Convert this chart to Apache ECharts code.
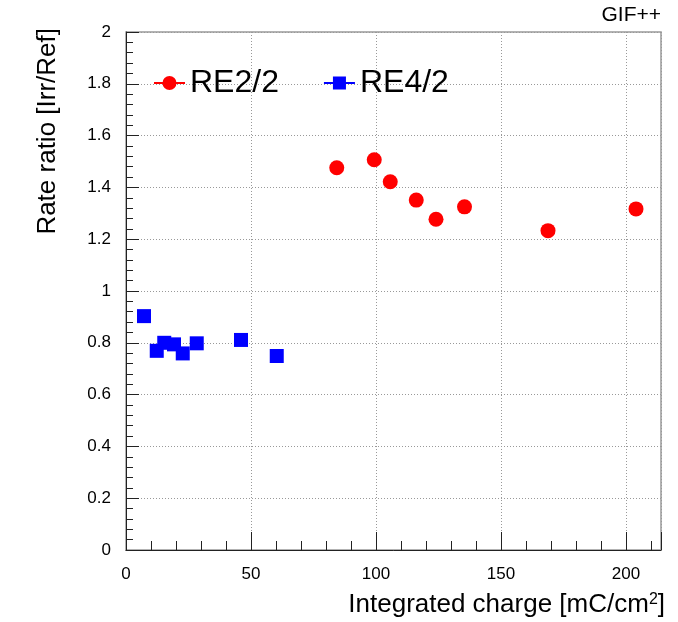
<!DOCTYPE html>
<html>
<head>
<meta charset="utf-8">
<script src="https://cdn.jsdelivr.net/npm/echarts@6/dist/echarts.min.js"></script>
<style>html,body{margin:0;padding:0;background:#fff;}#c{width:678px;height:622px;}</style>
</head>
<body>
<div id="c"></div>
<script>
// Data
const re22Charge = [84.3, 99.3, 105.7, 116.1, 124.0, 135.4, 168.8, 204.0];
const re22Ratio  = [1.476, 1.507, 1.422, 1.351, 1.277, 1.325, 1.233, 1.317];
const re42Charge = [7.2, 12.3, 15.3, 19.2, 22.7, 28.3, 46.0, 60.3];
const re42Ratio  = [0.903, 0.769, 0.800, 0.794, 0.759, 0.798, 0.811, 0.749];
const seriesNames = ['RE2/2', 'RE4/2'];
const xTitle = 'Integrated charge [mC/cm{sup|2}]';
const yTitle = 'Rate ratio [Irr/Ref]';
const cornerLabel = 'GIF++';

const FONT = '"Liberation Sans", Arial, Helvetica, sans-serif';
const pairs = (xs, ys) => xs.map((x, i) => [x, ys[i]]);

const chart = echarts.init(document.getElementById('c'), null, {renderer: 'canvas'});
chart.setOption({
  animation: false,
  backgroundColor: '#fff',
  textStyle: {fontFamily: FONT, color: '#000'},
  title: {
    text: cornerLabel, right: 12, top: 0,
    textStyle: {fontFamily: FONT, fontSize: 21, fontWeight: 'normal', color: '#000'}
  },
  legend: {
    left: 149, top: 62, orient: 'horizontal',
    itemWidth: 31, itemHeight: 14, itemGap: 45,
    textStyle: {fontFamily: FONT, fontSize: 32, color: '#000'},
    data: [
      {name: seriesNames[0], icon: 'path://M0,6 L31,6 L31,8 L0,8 Z M22.5,7 A7,7 0 1,1 8.5,7 A7,7 0 1,1 22.5,7 Z'},
      {name: seriesNames[1], icon: 'path://M0,6 L31,6 L31,8 L0,8 Z M9,0.5 L22,0.5 L22,13.5 L9,13.5 Z'}
    ]
  },
  grid: {
    left: 126, right: 17, top: 32, bottom: 72,
    show: true, borderColor: '#999', borderWidth: 1.5, backgroundColor: 'transparent'
  },
  xAxis: {
    type: 'value', min: 0, max: 214, interval: 50,
    name: xTitle, nameLocation: 'end', nameGap: 4,
    nameTextStyle: {
      fontFamily: FONT, fontSize: 26, color: '#000',
      align: 'right', verticalAlign: 'top', padding: [42, 0, 0, 0],
      rich: {sup: {fontFamily: FONT, fontSize: 16, verticalAlign: 'top', color: '#000'}}
    },
    axisLine: {show: true, onZero: false, lineStyle: {color: '#222', width: 1}},
    axisTick: {show: true, inside: true, length: 18, lineStyle: {color: '#222'}},
    minorTick: {show: true, splitNumber: 5, length: 9, lineStyle: {color: '#222'}},
    axisLabel: {
      fontFamily: FONT, fontSize: 17, color: '#000', margin: 16,
      showMaxLabel: false,
      formatter: v => (v % 50 === 0 ? String(v) : '')
    },
    splitLine: {show: true, lineStyle: {color: '#999', width: 1, type: [1, 2]}},
    minorSplitLine: {show: false}
  },
  yAxis: {
    type: 'value', min: 0, max: 2, interval: 0.2,
    name: yTitle, nameLocation: 'end', nameGap: 4, nameRotate: 90,
    nameTextStyle: {
      fontFamily: FONT, fontSize: 26, color: '#000',
      align: 'right', verticalAlign: 'bottom', padding: [0, 0, 65, 0]
    },
    axisLine: {show: true, onZero: false, lineStyle: {color: '#222', width: 1}},
    axisTick: {show: true, inside: true, length: 13, lineStyle: {color: '#222'}},
    minorTick: {show: true, splitNumber: 5, length: 7, lineStyle: {color: '#222'}},
    axisLabel: {fontFamily: FONT, fontSize: 17, color: '#000', margin: 15},
    splitLine: {show: true, lineStyle: {color: '#999', width: 1, type: [1, 2]}},
    minorSplitLine: {show: false}
  },
  series: [
    {
      name: seriesNames[0], type: 'scatter', symbol: 'circle', symbolSize: 15,
      itemStyle: {color: '#ff0000', opacity: 1},
      data: pairs(re22Charge, re22Ratio), z: 5
    },
    {
      name: seriesNames[1], type: 'scatter', symbol: 'rect', symbolSize: 14,
      itemStyle: {color: '#0000ff', opacity: 1},
      data: pairs(re42Charge, re42Ratio), z: 5
    }
  ]
});
</script>
</body>
</html>
